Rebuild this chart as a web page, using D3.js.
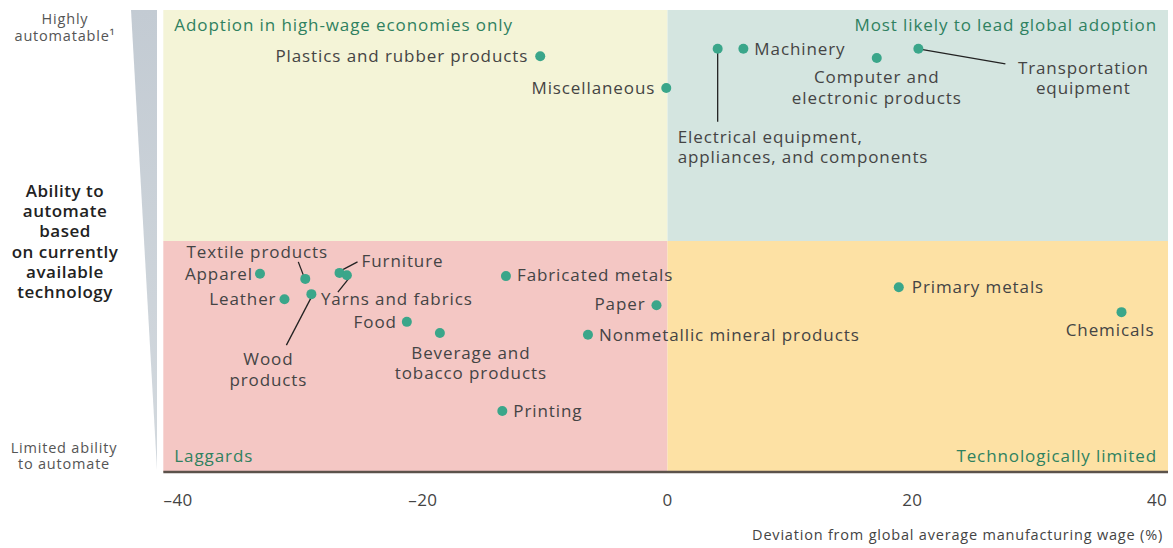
<!DOCTYPE html>
<html>
<head>
<meta charset="utf-8">
<script src="https://cdn.jsdelivr.net/npm/d3@7"></script>
<style>
  body { margin: 0; background: #fff; }
  text { font-family: "Open Sans", sans-serif; }
</style>
</head>
<body>
<div id="chart"></div>
<script>
// Industry data: wage deviation (%) vs ability to automate (0 = limited, 100 = highly automatable)
var industries = ["Plastics and rubber products", "Miscellaneous", "Electrical equipment, appliances, and components",
    "Machinery", "Computer and electronic products", "Transportation equipment",
    "Textile products", "Apparel", "Leather", "Wood products", "Furniture", "Yarns and fabrics",
    "Fabricated metals", "Paper", "Food", "Beverage and tobacco products",
    "Nonmetallic mineral products", "Printing", "Primary metals", "Chemicals"];
var wageDeviation = [-10.4, -0.1, 4.1, 6.2, 17.1, 20.5, -29.6, -33.3, -31.3, -29.1, -26.8, -26.2,
    -13.2, -0.9, -21.3, -18.6, -6.5, -13.5, 18.9, 37.1];
var automationScore = [90.0, 83.1, 91.6, 91.6, 89.6, 91.6, 41.8, 42.9, 37.4, 38.5, 43.1, 42.6,
    42.4, 36.1, 32.5, 30.1, 29.7, 13.2, 40.0, 34.6];
var xTicks = [-40, -20, 0, 20, 40];
var quadrantNames = ["Adoption in high-wage economies only", "Most likely to lead global adoption",
    "Laggards", "Technologically limited"];

// label layout (offsets from dot, in px)
var labelLayout = {
    "Plastics and rubber products": {dx: -12, dy: 6, anchor: "end", lines: ["Plastics and rubber products"]},
    "Miscellaneous": {dx: -11, dy: 6, anchor: "end", lines: ["Miscellaneous"]},
    "Electrical equipment, appliances, and components": {dx: -40, dy: 94, anchor: "start", lines: ["Electrical equipment,", "appliances, and components"], leader: [0, 0, 0, 73]},
    "Machinery": {dx: 11, dy: 6, anchor: "start", lines: ["Machinery"]},
    "Computer and electronic products": {dx: 0, dy: 25, anchor: "middle", lines: ["Computer and", "electronic products"]},
    "Transportation equipment": {dx: 165, dy: 25, anchor: "middle", lines: ["Transportation", "equipment"], leader: [0, 0, 87, 15]},
    "Textile products": {dx: -48, dy: -21, anchor: "middle", lines: ["Textile products"], leader: [-7, -17, -2, -4]},
    "Apparel": {dx: -7, dy: 6, anchor: "end", lines: ["Apparel"]},
    "Leather": {dx: -8, dy: 6, anchor: "end", lines: ["Leather"]},
    "Wood products": {dx: -43, dy: 71, anchor: "middle", lines: ["Wood", "products"], leader: [0, 3, -25, 51]},
    "Furniture": {dx: 22, dy: -6, anchor: "start", lines: ["Furniture"], leader: [-1, -1, 18, -11]},
    "Yarns and fabrics": {dx: -26, dy: 30, anchor: "start", lines: ["Yarns and fabrics"], leader: [3, 2, -9, 17]},
    "Fabricated metals": {dx: 11, dy: 5, anchor: "start", lines: ["Fabricated metals"]},
    "Paper": {dx: -11, dy: 5, anchor: "end", lines: ["Paper"]},
    "Food": {dx: -10, dy: 6, anchor: "end", lines: ["Food"]},
    "Beverage and tobacco products": {dx: 31, dy: 26, anchor: "middle", lines: ["Beverage and", "tobacco products"]},
    "Nonmetallic mineral products": {dx: 11, dy: 6, anchor: "start", lines: ["Nonmetallic mineral products"]},
    "Printing": {dx: 11, dy: 6, anchor: "start", lines: ["Printing"]},
    "Primary metals": {dx: 13, dy: 6, anchor: "start", lines: ["Primary metals"]},
    "Chemicals": {dx: 33, dy: 24, anchor: "end", lines: ["Chemicals"]}
};

var svgWidth = 1173, svgHeight = 548;
var svg = d3.select("#chart").append("svg")
    .attr("width", svgWidth)
    .attr("height", svgHeight);

var xScale = d3.scaleLinear().domain([-40, 40]).range([178, 1157]);
var yScale = d3.scaleLinear().domain([0, 100]).range([472, 10]);
var xMin = -41.2, xMax = 40.9, ySplit = 50;

// quadrant backgrounds
var quads = [
    {x0: xMin, x1: 0, y0: ySplit, y1: 100, fill: "#f4f4d7"},
    {x0: 0, x1: xMax, y0: ySplit, y1: 100, fill: "#d4e5e0"},
    {x0: xMin, x1: 0, y0: 0, y1: ySplit, fill: "#f4c7c4"},
    {x0: 0, x1: xMax, y0: 0, y1: ySplit, fill: "#fde1a4"}
];
svg.append("g").selectAll("rect")
    .data(quads)
    .enter()
    .append("rect")
    .attr("x", d => xScale(d.x0))
    .attr("y", d => yScale(d.y1))
    .attr("width", d => xScale(d.x1) - xScale(d.x0))
    .attr("height", d => yScale(d.y0) - yScale(d.y1))
    .attr("fill", d => d.fill);

// grey wedge on the left
var grad = svg.append("defs").append("linearGradient")
    .attr("id", "wedge").attr("x1", 0).attr("y1", 0).attr("x2", 0).attr("y2", 1);
grad.append("stop").attr("offset", "0%").attr("stop-color", "#c3cbd3");
grad.append("stop").attr("offset", "100%").attr("stop-color", "#d3d9de");
svg.append("path")
    .attr("d", `M131,${yScale(100)} L157,${yScale(100)} L157,${yScale(0) - 2} Z`)
    .attr("fill", "url(#wedge)");

// quadrant titles
var qPos = [
    {x: xMin, y: 100, dx: 11, dy: 21, anchor: "start"},
    {x: xMax, y: 100, dx: -11, dy: 21, anchor: "end"},
    {x: xMin, y: 0, dx: 11, dy: -10, anchor: "start"},
    {x: xMax, y: 0, dx: -11, dy: -10, anchor: "end"}
];
svg.append("g").selectAll("text")
    .data(quadrantNames)
    .enter()
    .append("text")
    .attr("x", (d, i) => xScale(qPos[i].x) + qPos[i].dx)
    .attr("y", (d, i) => yScale(qPos[i].y) + qPos[i].dy)
    .attr("text-anchor", (d, i) => qPos[i].anchor)
    .attr("fill", "#2f8160")
    .attr("font-size", "17px")
    .attr("letter-spacing", "0.9px")
    .attr("font-weight", 500)
    .text(d => d);

// x axis
var axisG = svg.append("g").attr("transform", `translate(0, ${yScale(0)})`);
axisG.append("line")
    .attr("x1", xScale(xMin)).attr("x2", xScale(xMax))
    .attr("stroke", "#5b524b").attr("stroke-width", 2.5);
axisG.selectAll("text.tick")
    .data(xTicks)
    .enter()
    .append("text")
    .attr("class", "tick")
    .attr("x", d => xScale(d))
    .attr("y", 34)
    .attr("text-anchor", "middle")
    .attr("fill", "#444")
    .attr("font-size", "17px")
    .attr("letter-spacing", "0.3px")
    .text(d => d < 0 ? "\u2013" + Math.abs(d) : d);
axisG.append("text")
    .attr("x", 1163).attr("y", 68)
    .attr("text-anchor", "end")
    .attr("fill", "#444")
    .attr("font-size", "14.5px")
    .attr("letter-spacing", "0.8px")
    .text("Deviation from global average manufacturing wage (%)");

// y axis descriptions
var leftG = svg.append("g").attr("text-anchor", "middle");
leftG.append("text").attr("x", 65).attr("y", 24).attr("fill", "#555").attr("font-size", "14.5px").attr("letter-spacing", "0.8px").text("Highly");
leftG.append("text").attr("x", 65).attr("y", 41).attr("fill", "#555").attr("font-size", "14.5px").attr("letter-spacing", "0.8px").text("automatable\u00b9");
["Ability to", "automate", "based", "on currently", "available", "technology"].forEach((t, i) => {
    leftG.append("text").attr("x", 65).attr("y", 197 + i * 20.2)
        .attr("fill", "#222").attr("font-size", "17px").attr("letter-spacing", "0.5px")
        .attr("font-weight", 600).text(t);
});
leftG.append("text").attr("x", 64).attr("y", 453).attr("fill", "#555").attr("font-size", "14.5px").attr("letter-spacing", "0.8px").text("Limited ability");
leftG.append("text").attr("x", 64).attr("y", 469).attr("fill", "#555").attr("font-size", "14.5px").attr("letter-spacing", "0.8px").text("to automate");

// points
var points = industries.map((name, i) => ({name: name, x: wageDeviation[i], y: automationScore[i]}));

var leaders = svg.append("g");
points.forEach(d => {
    var L = labelLayout[d.name];
    if (L.leader) {
        leaders.append("line")
            .attr("x1", xScale(d.x) + L.leader[0]).attr("y1", yScale(d.y) + L.leader[1])
            .attr("x2", xScale(d.x) + L.leader[2]).attr("y2", yScale(d.y) + L.leader[3])
            .attr("stroke", "#222").attr("stroke-width", 1.3);
    }
});

svg.append("g").selectAll("circle")
    .data(points)
    .enter()
    .append("circle")
    .attr("cx", d => xScale(d.x))
    .attr("cy", d => yScale(d.y))
    .attr("r", 5)
    .attr("fill", "#3aa68a");

var labels = svg.append("g").selectAll("text")
    .data(points)
    .enter()
    .append("text")
    .attr("x", d => xScale(d.x) + labelLayout[d.name].dx)
    .attr("y", d => yScale(d.y) + labelLayout[d.name].dy)
    .attr("text-anchor", d => labelLayout[d.name].anchor)
    .attr("fill", "#444")
    .attr("font-size", "17px")
    .attr("letter-spacing", "0.9px");
labels.selectAll("tspan")
    .data(d => labelLayout[d.name].lines.map(t => ({t: t, x: xScale(d.x) + labelLayout[d.name].dx})))
    .enter()
    .append("tspan")
    .attr("x", d => d.x)
    .attr("dy", (d, i) => i === 0 ? 0 : 20.5)
    .text(d => d.t);
</script>
</body>
</html>
